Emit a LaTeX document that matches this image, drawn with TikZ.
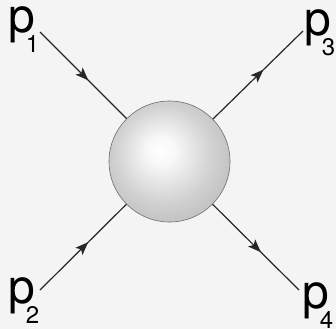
\documentclass[tikz,border=0pt]{standalone}
\usepackage{fontspec}
\setmainfont{TeX Gyre Heros}
\usepackage{tikz}
\usetikzlibrary{arrows.meta}
\usetikzlibrary{decorations.markings}

\definecolor{sfondo}{RGB}{244,244,244}
\definecolor{bordo}{RGB}{110,110,110}
\pgfdeclareradialshading{sfera}{\pgfpoint{-4bp}{5bp}}{%
  color(0bp)=(white); color(6bp)=(white!97!black); color(20bp)=(white!82!black);
  color(36bp)=(white!70!black); color(46bp)=(white!62!black); color(50bp)=(white!55!black)}

\newcommand{\impulso}[1]{p\kern-9pt\lower20pt\hbox{\fontsize{24}{24}\selectfont #1}}

\begin{document}
\begin{tikzpicture}[
      x=1pt, y=-1pt,
      lbl/.style={font=\fontsize{48}{48}\selectfont, anchor=base west, inner sep=0pt},
      linea/.style={line width=1.2pt, draw=black!85, postaction={decorate},
        decoration={markings, mark=at position 0.56 with {\arrow{Stealth[length=13pt,width=10pt,inset=3pt]}}}}
    ]
    % Sfondo
    \fill[sfondo] (0,0) rectangle (336,329);
    \useasboundingbox (0,0) rectangle (336,329);

    % Sfera centrale
    \node[circle, minimum size=121pt, inner sep=0pt, draw=bordo, line width=0.6pt,
      shading=sfera] (blob) at (169.5,161.5) {};

    % Etichette degli impulsi
    \node[lbl] (p1) at (8,33) {\impulso{1}};
    \node[lbl] (p2) at (8,303) {\impulso{2}};
    \node[lbl] (p3) at (304,35) {\impulso{3}};
    \node[lbl] (p4) at (302,308) {\impulso{4}};

    % Estremi delle linee
    \coordinate (a1) at (40,32);
    \coordinate (a2) at (40,290);
    \coordinate (a3) at (303,31);
    \coordinate (a4) at (299,290);

    % Linee con frecce
    \draw[linea] (a1) -- (blob);
    \draw[linea] (a2) -- (blob);
    \draw[linea] (blob) -- (a3);
    \draw[linea] (blob) -- (a4);
  \end{tikzpicture}
\end{document}
